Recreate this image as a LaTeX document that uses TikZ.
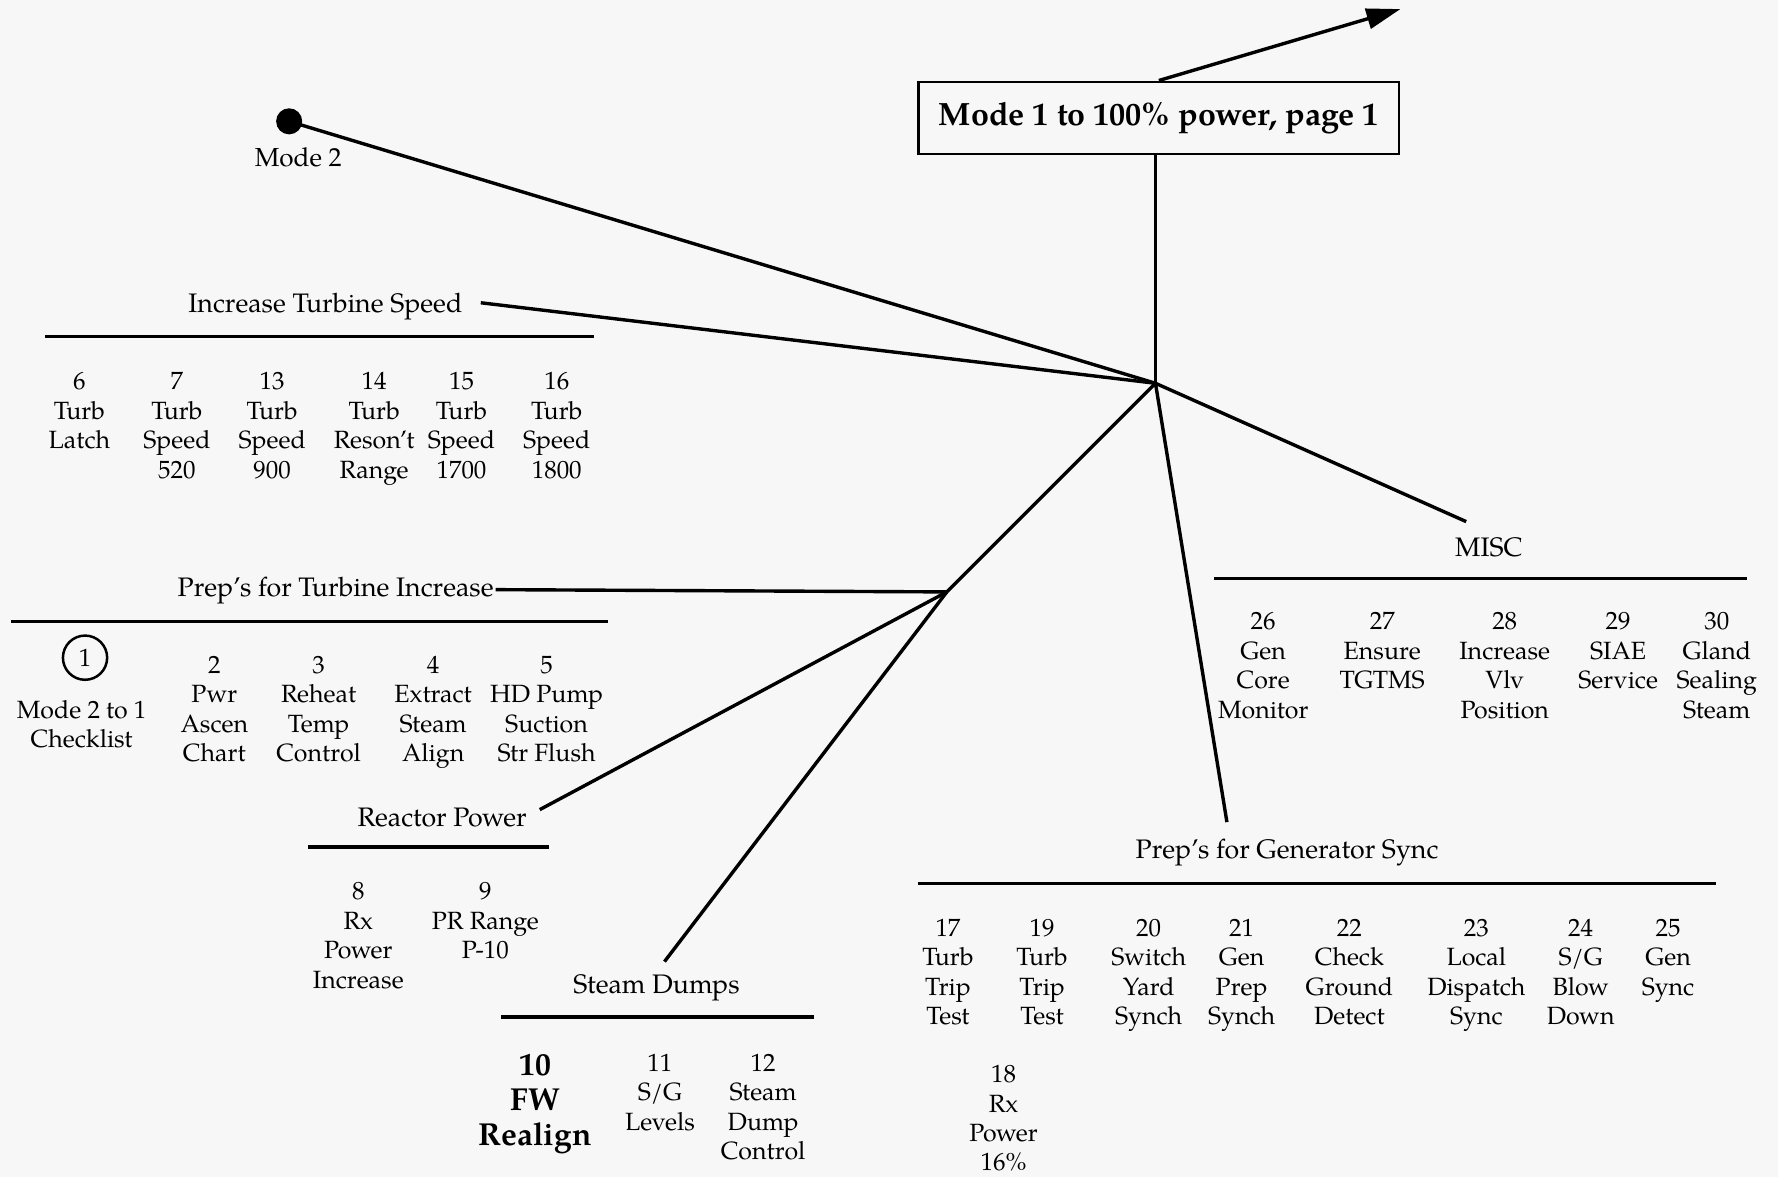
\documentclass[tikz,border=0pt]{standalone}
\usepackage{fontspec}
\setmainfont{TeX Gyre Pagella}
\usetikzlibrary{arrows.meta}
\definecolor{paper}{RGB}{247,247,247}
\begin{document}
\begin{tikzpicture}[x=0.5pt,y=-0.5pt,
  branch/.style={line width=1.5pt},
  rule/.style={line width=1.5pt},
  lbl/.style={font=\fontsize{11.8}{14}\selectfont, inner sep=0pt},
  entry/.style={font=\fontsize{11}{13}\selectfont, align=center, anchor=north, inner sep=0pt},
  bigentry/.style={font=\fontsize{14}{15.5}\selectfont\bfseries, align=center, anchor=north, inner sep=0pt},
  titlebox/.style={draw, line width=1pt, minimum width=212pt, minimum height=32pt,
                   font=\fontsize{14.2}{16}\selectfont\bfseries},
]
\fill[paper] (0,0) rectangle (1568,1038);
\useasboundingbox (0,0) rectangle (1568,1038);

% title and outgoing arrow
\node[titlebox] (title) at (1022,104) {Mode 1 to 100\% power, page 1};
\coordinate (tip) at (1235,8);
\draw[branch,-{Triangle[length=15pt,width=9pt]}] (title.north) -- (tip);

% junctions
\coordinate (hub) at (1019,338);
\coordinate (sub) at (835,522);
\draw[branch] (title.south -| hub) -- (hub);

% start point
\node[circle, fill, inner sep=0pt, minimum size=11.5pt] (mode2) at (255,107) {};
\node[lbl, font=\fontsize{11.5}{14}\selectfont] (mode2lbl) at (263,139) {Mode 2};
\draw[branch] (mode2.center) -- (hub);

% branch labels and their line ends
\node[lbl] (its)  at (287,270) {Increase Turbine Speed};
\node[lbl] (pti)  at (296,521) {Prep's for Turbine Increase};
\node[lbl] (rp)   at (390,721) {Reactor Power};
\node[lbl] (sd)   at (579,871) {Steam Dumps};
\node[lbl] (pgs)  at (1135,752) {Prep's for Generator Sync};
\node[lbl] (misc) at (1313,483) {MISC};

\coordinate (itsEnd)  at (424,267);
\coordinate (ptiEnd)  at (437,520);
\coordinate (rpEnd)   at (476,714);
\coordinate (sdEnd)   at (586,848);
\coordinate (pgsEnd)  at (1082,725);
\coordinate (miscEnd) at (1293,460);

\draw[branch] (itsEnd) -- (hub);
\draw[branch] (miscEnd) -- (hub);
\draw[branch] (pgsEnd) -- (hub);
\draw[branch] (sub) -- (hub);
\draw[branch] (ptiEnd) -- (sub);
\draw[branch] (rpEnd) -- (sub);
\draw[branch] (sdEnd) -- (sub);

% underlines
\draw[rule] (40,297) -- (524,297);
\draw[rule] (10,548) -- (536,548);
\draw[rule] (272,747) -- (484,747);
\draw[rule] (442,897) -- (718,897);
\draw[rule] (810,779) -- (1513,779);
\draw[rule] (1071,510) -- (1541,510);

% Increase Turbine Speed
\node[entry] (s6)  at (70,328)  {6\\Turb\\Latch};
\node[entry] (s7)  at (156,328) {7\\Turb\\Speed\\520};
\node[entry] (s13) at (240,328) {13\\Turb\\Speed\\900};
\node[entry] (s14) at (330,328) {14\\Turb\\Reson't\\Range};
\node[entry] (s15) at (407,328) {15\\Turb\\Speed\\1700};
\node[entry] (s16) at (491,328) {16\\Turb\\Speed\\1800};

% Prep's for Turbine Increase
\node[circle, draw, line width=1.1pt, minimum size=19.5pt, inner sep=0pt,
      font=\fontsize{11}{13}\selectfont] (s1) at (75,580) {1};
\node[entry] (s1t) at (72,617)  {Mode 2 to 1\\Checklist};
\node[entry] (s2)  at (189,578) {2\\Pwr\\Ascen\\Chart};
\node[entry] (s3)  at (281,578) {3\\Reheat\\Temp\\Control};
\node[entry] (s4)  at (382,578) {4\\Extract\\Steam\\Align};
\node[entry] (s5)  at (482,578) {5\\HD Pump\\Suction\\Str Flush};

% Reactor Power
\node[entry] (s8) at (316,778) {8\\Rx\\Power\\Increase};
\node[entry] (s9) at (428,778) {9\\PR Range\\P-10};

% Steam Dumps
\node[bigentry] (s10) at (472,929) {10\\FW\\Realign};
\node[entry] (s11) at (582,929) {11\\S/G\\Levels};
\node[entry] (s12) at (673,929) {12\\Steam\\Dump\\Control};

% Prep's for Generator Sync
\node[entry] (s17) at (836,810)  {17\\Turb\\Trip\\Test};
\node[entry] (s19) at (919,810)  {19\\Turb\\Trip\\Test};
\node[entry] (s20) at (1013,810) {20\\Switch\\Yard\\Synch};
\node[entry] (s21) at (1095,810) {21\\Gen\\Prep\\Synch};
\node[entry] (s22) at (1190,810) {22\\Check\\Ground\\Detect};
\node[entry] (s23) at (1302,810) {23\\Local\\Dispatch\\Sync};
\node[entry] (s24) at (1394,810) {24\\S/G\\Blow\\Down};
\node[entry] (s25) at (1471,810) {25\\Gen\\Sync};
\node[entry] (s18) at (885,939)  {18\\Rx\\Power\\16\%};

% MISC
\node[entry] (s26) at (1114,540) {26\\Gen\\Core\\Monitor};
\node[entry] (s27) at (1219,540) {27\\Ensure\\TGTMS};
\node[entry] (s28) at (1327,540) {28\\Increase\\Vlv\\Position};
\node[entry] (s29) at (1427,540) {29\\SIAE\\Service};
\node[entry] (s30) at (1514,540) {30\\Gland\\Sealing\\Steam};
\end{tikzpicture}
\end{document}
